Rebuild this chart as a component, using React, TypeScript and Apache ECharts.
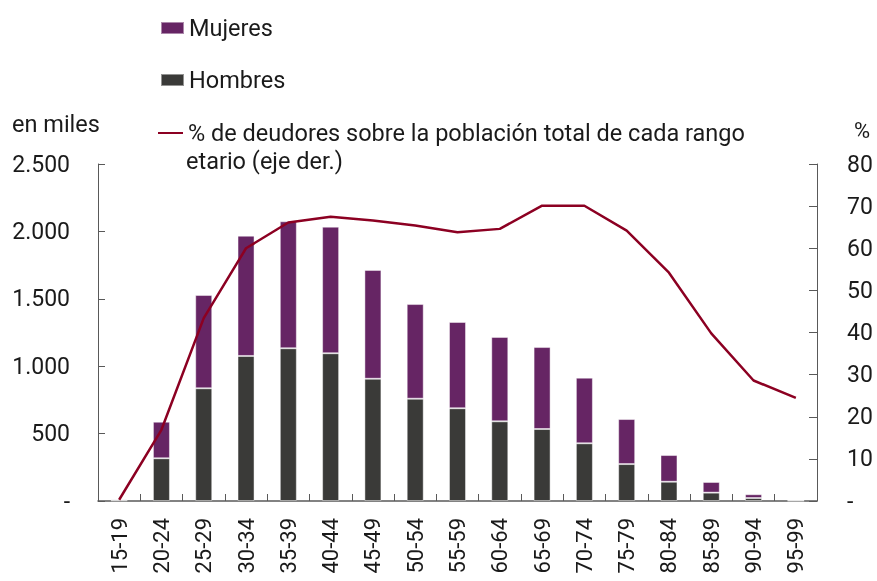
import React, { useEffect, useRef } from "react";
import * as echarts from "echarts";

const categories = ["15-19","20-24","25-29","30-34","35-39","40-44","45-49","50-54","55-59","60-64","65-69","70-74","75-79","80-84","85-89","90-94","95-99"];
const hombres = [5, 317, 836, 1076, 1133, 1096, 907, 759, 688, 591, 534, 428, 274, 143, 62, 22, 2];
const mujeres = [8, 271, 692, 892, 942, 939, 807, 702, 640, 626, 608, 487, 334, 198, 79, 28, 5];
const pctDeudores = [0.3, 16.9, 43.4, 60.0, 66.1, 67.5, 66.6, 65.4, 63.8, 64.6, 70.1, 70.1, 64.2, 54.2, 39.8, 28.6, 24.5];

const LINE_NAME = "% de deudores sobre la población total de cada rango etario (eje der.)";
const FONT = "Roboto";
const TXT = "#1a1a1a";

function fmtThousands(v: number): string {
  if (v === 0) return "-";
  return String(v).replace(/\B(?=(\d{3})+(?!\d))/g, ".");
}

export default function App() {
  const ref = useRef<HTMLDivElement>(null);
  useEffect(() => {
    if (!ref.current) return;
    const chart = echarts.init(ref.current, undefined, { renderer: "svg" });
    const legendText = { fontFamily: FONT, fontSize: 23.5, color: TXT };
    chart.setOption({
      animation: false,
      textStyle: { fontFamily: FONT },
      grid: { left: 98, right: 60, top: 164, bottom: 80, containLabel: false },
      legend: [
        { data: ["Mujeres"], left: 160, top: 16, padding: 0, itemWidth: 23, itemHeight: 12, icon: "rect", textStyle: legendText, itemGap: 0 },
        { data: ["Hombres"], left: 160, top: 68, padding: 0, itemWidth: 23, itemHeight: 12, icon: "rect", textStyle: legendText, itemGap: 0 },
        {
          data: [LINE_NAME], left: 158, top: 121, padding: 0, itemWidth: 25, itemHeight: 2, icon: "rect", textStyle: legendText,
          formatter: () => "% de deudores sobre la población total de cada rango",
        },
      ],
      graphic: [
        { type: "text", left: 12, top: 112, style: { text: "en miles", fontFamily: FONT, fontSize: 23.5, fill: TXT } },
        { type: "text", left: 854, top: 119, style: { text: "%", fontFamily: FONT, fontSize: 22, fill: TXT } },
        { type: "text", left: 186, top: 149, style: { text: "etario (eje der.)", fontFamily: FONT, fontSize: 23.5, fill: TXT } },
      ],
      xAxis: {
        type: "category",
        data: categories,
        axisLine: { show: true, lineStyle: { color: "#595959", width: 1.5 } },
        axisTick: { show: true, inside: true, length: 7, alignWithLabel: false, lineStyle: { color: "#595959" } },
        axisLabel: { rotate: 90, fontFamily: FONT, fontSize: 22, color: TXT, margin: 17 },
      },
      yAxis: [
        {
          type: "value", min: 0, max: 2500, interval: 500,
          splitLine: { show: false },
          axisLine: { show: true, lineStyle: { color: "#595959" } },
          axisTick: { show: true, inside: true, length: 7, lineStyle: { color: "#595959" } },
          axisLabel: { formatter: (v: number) => fmtThousands(v), fontFamily: FONT, fontSize: 23, color: TXT, margin: 28 },
        },
        {
          type: "value", min: 0, max: 80, interval: 10,
          splitLine: { show: false },
          axisLine: { show: true, lineStyle: { color: "#595959" } },
          axisTick: { show: true, inside: true, length: 8, lineStyle: { color: "#595959" } },
          axisLabel: { formatter: (v: number) => (v === 0 ? "-" : String(v)), fontFamily: FONT, fontSize: 23, color: TXT, margin: 30 },
        },
      ],
      series: [
        {
          name: "Hombres", type: "bar", stack: "total", data: hombres, barWidth: 17,
          itemStyle: { color: "#3a3a38", borderColor: "rgba(255,255,255,0.45)", borderWidth: 1 },
        },
        {
          name: "Mujeres", type: "bar", stack: "total", data: mujeres, barWidth: 17,
          itemStyle: { color: "#662564", borderColor: "rgba(255,255,255,0.45)", borderWidth: 1 },
        },
        {
          name: LINE_NAME, type: "line", yAxisIndex: 1, data: pctDeudores, symbol: "none",
          lineStyle: { color: "#8c0022", width: 2.5 }, itemStyle: { color: "#8c0022" },
        },
      ],
    });
    return () => chart.dispose();
  }, []);
  return <div ref={ref} style={{ position: "fixed", left: 0, top: 0, width: 877, height: 581 }} />;
}
